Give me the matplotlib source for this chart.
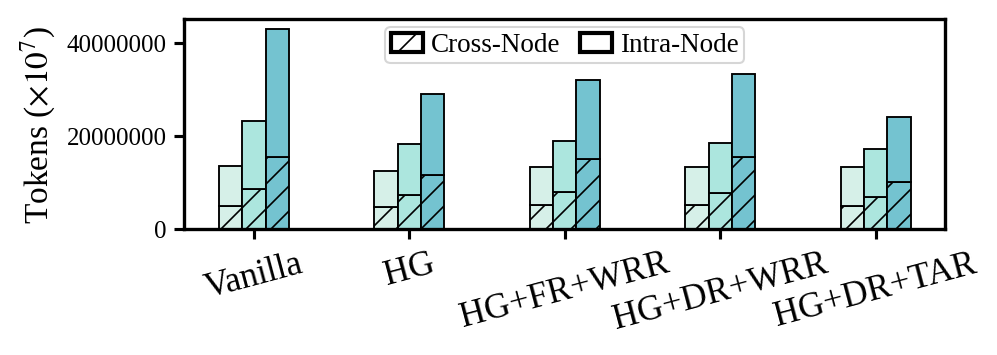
import matplotlib
matplotlib.use('Agg')
import matplotlib.pyplot as plt
import numpy as np
from matplotlib.patches import Patch
from matplotlib.ticker import ScalarFormatter

plt.rcParams['font.family'] = ['Liberation Serif', 'DejaVu Serif']
plt.rcParams['mathtext.fontset'] = 'stix'
plt.rcParams['hatch.linewidth'] = 0.8

# data
methods = ['Vanilla', 'HG', 'HG+FR+WRR', 'HG+DR+WRR', 'HG+DR+TAR']
totals = [
    [1.35e7, 1.24e7, 1.33e7, 1.33e7, 1.32e7],
    [2.31e7, 1.82e7, 1.89e7, 1.84e7, 1.72e7],
    [4.29e7, 2.90e7, 3.19e7, 3.32e7, 2.41e7],
]
cross = [
    [4.9e6, 4.7e6, 5.2e6, 5.2e6, 4.9e6],
    [8.6e6, 7.3e6, 8.0e6, 7.8e6, 6.8e6],
    [1.54e7, 1.15e7, 1.50e7, 1.55e7, 1.00e7],
]
colors = ['#d6f0e8', '#ace6de', '#74c3d0']

fig, ax = plt.subplots(figsize=(6.647, 2.373), dpi=150)

x = np.arange(len(methods))
width = 0.15
for i in range(3):
    pos = x + (i - 1) * width
    intra = np.array(totals[i]) - np.array(cross[i])
    # cross-node part (hatched) at the bottom
    ax.bar(pos, cross[i], width, color=colors[i], edgecolor='black', linewidth=0.9, hatch='//')
    # intra-node part on top
    ax.bar(pos, intra, width, bottom=cross[i], color=colors[i], edgecolor='black', linewidth=0.9)

ax.set_yticks([0, 2e7, 4e7])
fmt = ScalarFormatter(useOffset=False)
fmt.set_scientific(False)
ax.yaxis.set_major_formatter(fmt)
ax.tick_params(axis='y', labelsize=12, width=1.5, length=5)
ax.tick_params(axis='x', width=1.5, length=5)
ax.set_xticks(x)
ax.set_xticklabels(methods, fontsize=17, rotation=15, ha='center')
ax.set_ylabel(r'Tokens ($\times10^7$)', fontsize=16)

for s in ax.spines.values():
    s.set_linewidth(1.6)

handles = [Patch(facecolor='white', edgecolor='black', linewidth=2, hatch='/', label='Cross-Node'),
           Patch(facecolor='white', edgecolor='black', linewidth=2, label='Intra-Node')]
ax.legend(handles=handles, loc='upper center', ncol=2, fontsize=13, frameon=True,
          borderpad=0.2, handlelength=1.2, handletextpad=0.3, columnspacing=0.7,
          borderaxespad=0.3, bbox_to_anchor=(0.5, 1.0))

plt.subplots_adjust(left=0.185, right=0.948, top=0.944, bottom=0.354)
plt.savefig('out.png')
